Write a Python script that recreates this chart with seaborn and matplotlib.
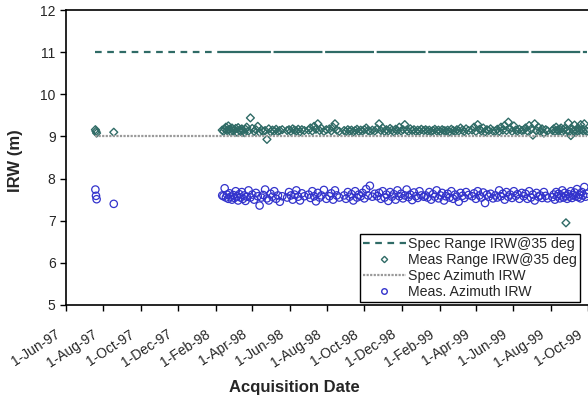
import matplotlib
matplotlib.use("Agg")
import matplotlib.pyplot as plt
import matplotlib.dates as mdates
import matplotlib.transforms as mtransforms
import pandas as pd
import seaborn as sns

# acquisition dates (early sparse passes + dense campaign 1998-1999)
dates = [
    "1997-07-19", "1997-07-20", "1997-07-21", "1997-08-18",
    # seg A
    "1998-02-11", "1998-02-13", "1998-02-15", "1998-02-17", "1998-02-19", "1998-02-21", "1998-02-23", "1998-02-25", "1998-02-27", "1998-03-01",
    "1998-03-03", "1998-03-05", "1998-03-07", "1998-03-09", "1998-03-11", "1998-03-13", "1998-03-15", "1998-03-17", "1998-03-19", "1998-03-21",
    "1998-03-23", "1998-03-26", "1998-03-29", "1998-04-01", "1998-04-04", "1998-04-07", "1998-04-10", "1998-04-13", "1998-04-16", "1998-04-19",
    "1998-04-22", "1998-04-25", "1998-04-28", "1998-05-01", "1998-05-04", "1998-05-07", "1998-05-10", "1998-05-13", "1998-05-16", "1998-05-20",
    # seg B
    "1998-05-28", "1998-05-31", "1998-06-03", "1998-06-06", "1998-06-09", "1998-06-12", "1998-06-15", "1998-06-18", "1998-06-21", "1998-06-25",
    # seg C
    "1998-07-02", "1998-07-05", "1998-07-08", "1998-07-11", "1998-07-14", "1998-07-17", "1998-07-20", "1998-07-23", "1998-07-27", "1998-07-31",
    # seg D
    "1998-08-05", "1998-08-08", "1998-08-11", "1998-08-14", "1998-08-17", "1998-08-21",
    # seg E
    "1998-08-29", "1998-09-01", "1998-09-04", "1998-09-07", "1998-09-10", "1998-09-13", "1998-09-16", "1998-09-19", "1998-09-22", "1998-09-25",
    "1998-09-28", "1998-10-01", "1998-10-04", "1998-10-07", "1998-10-10", "1998-10-14", "1998-10-18",
    # seg F
    "1998-10-22", "1998-10-25", "1998-10-28", "1998-10-31", "1998-11-03", "1998-11-06", "1998-11-09", "1998-11-12", "1998-11-15", "1998-11-18",
    "1998-11-21", "1998-11-24", "1998-11-27", "1998-11-30", "1998-12-03", "1998-12-06", "1998-12-09", "1998-12-12", "1998-12-15", "1998-12-18",
    "1998-12-21", "1998-12-24", "1998-12-27", "1998-12-30", "1999-01-02", "1999-01-06",
    # seg G
    "1999-01-09", "1999-01-12", "1999-01-15", "1999-01-18", "1999-01-21", "1999-01-24", "1999-01-27", "1999-01-30", "1999-02-02", "1999-02-05",
    "1999-02-08", "1999-02-11", "1999-02-14", "1999-02-17", "1999-02-20", "1999-02-23", "1999-02-26", "1999-03-01", "1999-03-04", "1999-03-07",
    "1999-03-10", "1999-03-13", "1999-03-16", "1999-03-20",
    # seg H
    "1999-03-26", "1999-03-29", "1999-04-01", "1999-04-04", "1999-04-07", "1999-04-10", "1999-04-13", "1999-04-16", "1999-04-19", "1999-04-22",
    "1999-04-25", "1999-04-29",
    # seg I
    "1999-05-03", "1999-05-06", "1999-05-09", "1999-05-12", "1999-05-15", "1999-05-18", "1999-05-21", "1999-05-24", "1999-05-27", "1999-05-30",
    "1999-06-02", "1999-06-05", "1999-06-08", "1999-06-11", "1999-06-15",
    # seg J
    "1999-06-18", "1999-06-21", "1999-06-24", "1999-06-27", "1999-06-30", "1999-07-03", "1999-07-06", "1999-07-09", "1999-07-12", "1999-07-15",
    "1999-07-18", "1999-07-21", "1999-07-24", "1999-07-27",
    # seg K
    "1999-08-04", "1999-08-06", "1999-08-08", "1999-08-10", "1999-08-12", "1999-08-14", "1999-08-16", "1999-08-18", "1999-08-20", "1999-08-22",
    "1999-08-24", "1999-08-26", "1999-08-28", "1999-08-30", "1999-09-01", "1999-09-03", "1999-09-05", "1999-09-07", "1999-09-09", "1999-09-11",
    "1999-09-13", "1999-09-15", "1999-09-17", "1999-09-19", "1999-09-21", "1999-09-23", "1999-09-25", "1999-09-27", "1999-09-29",
]

meas_range = [
    9.16, 9.12, 9.08, 9.10,
    9.15, 9.12, 9.18, 9.22, 9.14, 9.25, 9.17, 9.11, 9.20, 9.13,
    9.16, 9.19, 9.10, 9.21, 9.15, 9.12, 9.18, 9.14, 9.09, 9.17,
    9.22, 9.13, 9.44, 9.19, 9.12, 9.16, 9.24, 9.10, 9.15, 9.12,
    9.14, 8.93, 9.18, 9.11, 9.15, 9.13, 9.17, 9.12, 9.14, 9.16,
    9.14, 9.16, 9.12, 9.18, 9.15, 9.13, 9.17, 9.11, 9.16, 9.14,
    9.15, 9.20, 9.13, 9.24, 9.17, 9.30, 9.14, 9.19, 9.12, 9.16,
    9.18, 9.13, 9.22, 9.30, 9.15, 9.12,
    9.14, 9.12, 9.16, 9.13, 9.15, 9.11, 9.14, 9.17, 9.12, 9.15,
    9.13, 9.16, 9.20, 9.14, 9.12, 9.15, 9.13,
    9.18, 9.30, 9.14, 9.20, 9.12, 9.16, 9.13, 9.19, 9.15, 9.11,
    9.17, 9.14, 9.22, 9.13, 9.16, 9.28, 9.15, 9.12, 9.18, 9.14,
    9.16, 9.12, 9.15, 9.13, 9.17, 9.14,
    9.16, 9.13, 9.15, 9.12, 9.14, 9.17, 9.13, 9.15, 9.12, 9.16,
    9.14, 9.13, 9.15, 9.11, 9.17, 9.14, 9.12, 9.16, 9.13, 9.20,
    9.15, 9.12, 9.18, 9.14,
    9.15, 9.22, 9.12, 9.28, 9.17, 9.13, 9.20, 9.11, 9.16, 9.14,
    9.18, 9.13,
    9.13, 9.17, 9.12, 9.22, 9.15, 9.26, 9.14, 9.34, 9.18, 9.12,
    9.25, 9.15, 9.13, 9.17, 9.14,
    9.15, 9.20, 9.13, 9.26, 9.17, 9.03, 9.30, 9.14, 9.22, 9.12,
    9.18, 9.08, 9.16, 9.13,
    9.14, 9.18, 9.12, 9.22, 9.15, 9.13, 9.17, 9.20, 9.11, 9.16,
    9.19, 6.95, 9.14, 9.32, 9.12, 9.02, 9.18, 9.13, 9.27, 9.15,
    9.12, 9.20, 9.14, 9.28, 9.16, 9.13, 9.30, 9.15, 9.12,
]

meas_azimuth = [
    7.74, 7.59, 7.51, 7.40,
    7.60, 7.58, 7.77, 7.55, 7.62, 7.52, 7.65, 7.57, 7.50, 7.61,
    7.54, 7.70, 7.58, 7.48, 7.63, 7.55, 7.68, 7.52, 7.60, 7.47,
    7.57, 7.72, 7.55, 7.62, 7.50, 7.66, 7.58, 7.36, 7.55, 7.61,
    7.74, 7.53, 7.48, 7.64, 7.57, 7.70, 7.52, 7.60, 7.45, 7.58,
    7.55, 7.68, 7.60, 7.50, 7.62, 7.72, 7.57, 7.48, 7.65, 7.58,
    7.62, 7.54, 7.70, 7.58, 7.46, 7.66, 7.55, 7.60, 7.73, 7.52,
    7.58, 7.65, 7.50, 7.72, 7.60, 7.55,
    7.60, 7.52, 7.68, 7.57, 7.63, 7.48, 7.70, 7.55, 7.62, 7.58,
    7.66, 7.53, 7.75, 7.60, 7.83, 7.57, 7.64,
    7.58, 7.66, 7.52, 7.70, 7.55, 7.62, 7.47, 7.68, 7.57, 7.63,
    7.50, 7.72, 7.58, 7.64, 7.53, 7.60, 7.74, 7.56, 7.62, 7.49,
    7.67, 7.58, 7.54, 7.70, 7.60, 7.57,
    7.60, 7.55, 7.68, 7.50, 7.63, 7.57, 7.72, 7.53, 7.60, 7.66,
    7.48, 7.58, 7.64, 7.55, 7.70, 7.52, 7.62, 7.57, 7.45, 7.66,
    7.59, 7.54, 7.68, 7.61,
    7.58, 7.65, 7.52, 7.70, 7.60, 7.55, 7.67, 7.42, 7.62, 7.57,
    7.64, 7.53,
    7.60, 7.55, 7.72, 7.58, 7.64, 7.50, 7.68, 7.57, 7.62, 7.54,
    7.70, 7.59, 7.63, 7.52, 7.66,
    7.58, 7.64, 7.52, 7.70, 7.55, 7.62, 7.48, 7.66, 7.57, 7.60,
    7.54, 7.68, 7.59, 7.53,
    7.56, 7.62, 7.50, 7.68, 7.58, 7.64, 7.53, 7.60, 7.72, 7.55,
    7.66, 7.59, 7.52, 7.63, 7.57, 7.70, 7.54, 7.61, 7.67, 7.58,
    7.75, 7.56, 7.62, 7.53, 7.68, 7.60, 7.80, 7.57, 7.64,
]

spec_range = 11.0
spec_azimuth = 9.0

df = pd.DataFrame({
    "date": pd.to_datetime(dates),
    "range": meas_range,
    "azimuth": meas_azimuth,
})
df["spec_range"] = spec_range
df["spec_azimuth"] = spec_azimuth

sns.set_style("ticks")
plt.rcParams["font.family"] = ["Liberation Sans", "DejaVu Sans"]

teal = "#2f6b66"
blue = "#3333cc"
grey = "#9a9a9a"

fig = plt.figure(figsize=(5.88, 3.99), dpi=100)
ax = fig.add_axes([0.1122, 0.2356, 0.8878, 0.7393])

early = df.iloc[:5]
dense = df.iloc[4:]
sns.lineplot(data=early, x="date", y="spec_range", ax=ax, color=teal,
             lw=1.6, linestyle=(0, (3, 2.5)), label="_nolegend_")
sns.lineplot(data=dense, x="date", y="spec_range", ax=ax, color=teal,
             lw=1.6, linestyle=(0, (22, 1.2)), label="_nolegend_")
sns.lineplot(data=df, x="date", y="spec_azimuth", ax=ax, color=grey,
             lw=1.6, linestyle=(0, (1, 0.6)), label="_nolegend_")
sns.scatterplot(data=df, x="date", y="range", ax=ax, marker="D", s=16,
                facecolor="none", edgecolor=teal, linewidth=1.0,
                label="_nolegend_")
sns.scatterplot(data=df, x="date", y="azimuth", ax=ax, marker="o", s=28,
                facecolor="none", edgecolor=blue, linewidth=0.9,
                label="_nolegend_")

ax.set_xlim(pd.Timestamp("1997-06-01"), pd.Timestamp("1999-10-01"))
ax.set_ylim(5, 12)
ax.set_yticks(range(5, 13))
ax.xaxis.set_major_locator(mdates.MonthLocator(bymonth=[2, 4, 6, 8, 10, 12]))
ax.xaxis.set_major_formatter(mdates.DateFormatter("%-d-%b-%y"))
ax.tick_params(axis="both", labelsize=10, length=4, width=1, color="black")
ax.tick_params(axis="x", pad=12)

# rotated date labels, nudged a little left like the original
shift = mtransforms.ScaledTranslation(-8 / 72, 0, fig.dpi_scale_trans)
for lbl in ax.get_xticklabels():
    lbl.set_rotation(33)
    lbl.set_ha("right")
    lbl.set_rotation_mode("anchor")
    lbl.set_transform(lbl.get_transform() + shift)

ax.set_xlabel("Acquisition Date", fontsize=12, fontweight="bold")
ax.xaxis.set_label_coords(0.437, -0.255)
ax.set_ylabel("IRW (m)", fontsize=12, fontweight="bold")
ax.yaxis.set_label_coords(-0.083, 0.49)

for side in ["left", "bottom", "top"]:
    ax.spines[side].set_color("black")
    ax.spines[side].set_linewidth(1.2)
ax.spines["right"].set_visible(False)

handles = [
    plt.Line2D([], [], color=teal, lw=1.6, linestyle=(0, (3, 2.5))),
    plt.Line2D([], [], color=teal, marker="D", markersize=3.2,
               markerfacecolor="none", linestyle="none"),
    plt.Line2D([], [], color=grey, lw=1.6, linestyle=(0, (1, 0.6))),
    plt.Line2D([], [], color=blue, marker="o", markersize=4,
               markerfacecolor="none", linestyle="none"),
]
labels = ["Spec Range IRW@35 deg", "Meas Range IRW@35 deg",
          "Spec Azimuth IRW", "Meas. Azimuth IRW"]
leg = ax.legend(handles, labels, loc="lower right",
                bbox_to_anchor=(0.985, 0.01), fontsize=10.2, frameon=True,
                fancybox=False, edgecolor="black", framealpha=1,
                borderpad=0.2, labelspacing=0.15, handlelength=3.0,
                handletextpad=0.2, borderaxespad=0)
leg.get_frame().set_linewidth(1.0)

fig.savefig("out.png", dpi=100)
